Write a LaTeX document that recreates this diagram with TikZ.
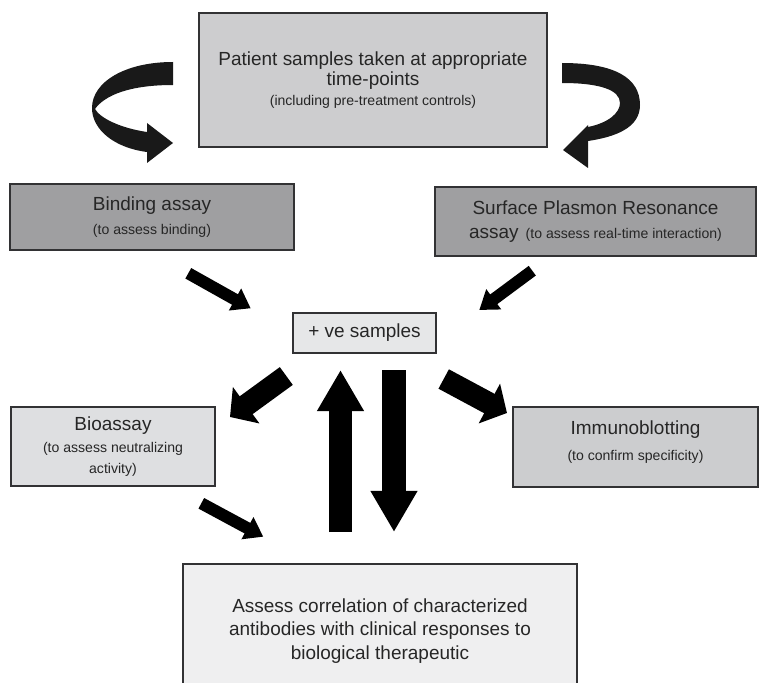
\documentclass[tikz,border=0pt]{standalone}
\usepackage{fontspec}
\setsansfont{Liberation Sans}
\usetikzlibrary{arrows.meta}

\newcommand{\maintext}{\fontsize{13.5}{14.5}\selectfont}
\newcommand{\smalltext}{\fontsize{10}{13}\selectfont}

\begin{document}
\begin{tikzpicture}[
    x=0.025cm, y=-0.025cm,
    box/.style={rectangle, draw=boxline, line width=0.9pt, align=center, inner sep=0pt, font=\sffamily\maintext, text=black!85},
    topbox/.style={box, fill=topgray, minimum width=8.7cm, minimum height=3.35cm},
    assaybox/.style={box, fill=assaygray},
    thinarrow/.style={line width=0.3cm, -{Triangle[length=0.45cm, width=0.6cm]}},
    fatarrow/.style={line width=0.55cm, -{Triangle[length=0.5cm, width=1.1cm]}},
    tallarrow/.style={line width=0.575cm, -{Triangle[length=1.025cm, width=1.1cm]}},
    ribbon/.style={fill=black!90, draw=none}
]

% Define colors
\definecolor{boxline}{RGB}{50,50,52}
\definecolor{topgray}{RGB}{205,205,207}
\definecolor{assaygray}{RGB}{159,159,161}
\definecolor{posgray}{RGB}{230,231,232}
\definecolor{biogray}{RGB}{222,223,225}
\definecolor{blotgray}{RGB}{204,205,207}
\definecolor{bottomgray}{RGB}{239,239,240}

\useasboundingbox (0,0) rectangle (759,683);

% --- Boxes ---
\node[topbox] (patient) at (373,80) {Patient samples taken at appropriate\\time-points\\\smalltext (including pre-treatment controls)};
\node[assaybox, minimum width=7.1cm, minimum height=1.65cm] (binding) at (152,217) {Binding assay\\[3pt]\smalltext (to assess binding)};
\node[assaybox, minimum width=8.025cm, minimum height=1.725cm] (spr) at (595.5,221.5) {Surface Plasmon Resonance\\[2pt]assay\hspace{5pt}\smalltext (to assess real-time interaction)};
\node[box, fill=posgray, minimum width=3.575cm, minimum height=1.0cm] (positive) at (364.5,333) {+ ve samples};
\node[box, fill=biogray, minimum width=5.1cm, minimum height=1.975cm] (bioassay) at (113,446.5) {Bioassay\\[1pt]\smalltext (to assess neutralizing\\\smalltext activity)};
\node[box, fill=blotgray, minimum width=6.125cm, minimum height=2.0cm] (blotting) at (635.5,447) {Immunoblotting\\[4pt]\smalltext (to confirm specificity)\\[-6pt]};
\node[box, fill=bottomgray, minimum width=9.85cm, minimum height=3.35cm, font=\sffamily\fontsize{13.5}{17}\selectfont] (correlate) at (380,631) {Assess correlation of characterized\\antibodies with clinical responses to\\biological therapeutic};

% --- Arrow end points ---
\coordinate (bind-s) at (188.3,273.3);
\coordinate (bind-e) at (250.7,308.3);
\coordinate (spr-s) at (532.3,270.7);
\coordinate (spr-e) at (479.3,310);
\coordinate (bio-s) at (286.3,376);
\coordinate (bio-e) at (230,417);
\coordinate (blot-s) at (443.7,379);
\coordinate (blot-e) at (507,413);
\coordinate (biocor-s) at (201.3,503.3);
\coordinate (biocor-e) at (263.3,536.7);
\coordinate (up-s) at (340.5,532);
\coordinate (up-e) at (340.5,370);
\coordinate (down-s) at (394,370);
\coordinate (down-e) at (394,532);

% --- Curved arrows from patient samples (twisted ribbons) ---
\fill[ribbon] (173,62) .. controls (125,62) and (92,82) .. (92,108)
    .. controls (92,130) and (115,148) .. (147,152) -- (147,163) -- (173,143) -- (147,123) -- (147,132)
    .. controls (120,128) and (100,118) .. (95,109)
    .. controls (105,95) and (130,85) .. (173,85) -- cycle;
\fill[ribbon] (562,63) .. controls (615,63) and (640,78) .. (640,105)
    .. controls (640,128) and (615,137) .. (588,141) -- (588,168) -- (563,150) -- (588,125) -- (588,127)
    .. controls (608,123) and (620,113) .. (620,103)
    .. controls (620,90) and (600,83) .. (562,83) -- cycle;

% --- Block arrows ---
\draw[thinarrow] (bind-s) -- (bind-e);
\draw[thinarrow] (spr-s) -- (spr-e);
\draw[fatarrow] (bio-s) -- (bio-e);
\draw[fatarrow] (blot-s) -- (blot-e);
\draw[thinarrow] (biocor-s) -- (biocor-e);
\draw[tallarrow] (up-s) -- (up-e);
\draw[tallarrow] (down-s) -- (down-e);

\end{tikzpicture}
\end{document}
